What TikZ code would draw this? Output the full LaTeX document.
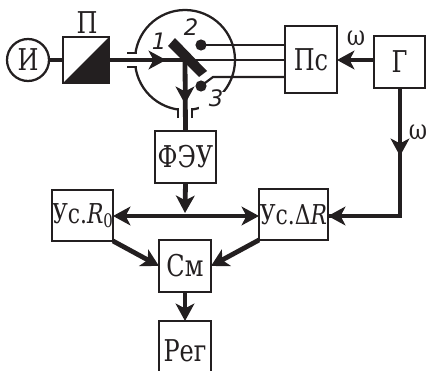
\documentclass[tikz,border=0pt]{standalone}
\usepackage{fontspec}
\setmainfont[FakeStretch=0.8]{DejaVu Serif}
\newfontfamily\numfont{DejaVu Sans}
\usetikzlibrary{arrows.meta,positioning}
\definecolor{ink}{HTML}{231F20}
\tikzset{
  x=0.75pt,y=-0.75pt,
  blockbox/.style={draw=ink,line width=1.9pt,fill=white,inner sep=0pt,outer sep=0pt,anchor=north west,font=\fontsize{22.5pt}{24pt}\selectfont,text=ink},
  thinwire/.style={draw=ink,line width=1.6pt},
  wire/.style={draw=ink,line width=3.6pt},
  arrowwire/.style={wire,-{Stealth[length=13pt,width=14pt,inset=3.5pt]}},
  bothwire/.style={wire,{Stealth[length=13pt,width=14pt,inset=3.5pt]}-{Stealth[length=13pt,width=14pt,inset=3.5pt]}},
  labeltext/.style={inner sep=0pt,text=ink,font=\fontsize{22.5pt}{24pt}\selectfont},
  smalltext/.style={inner sep=0pt,text=ink,font=\fontsize{21pt}{22pt}\selectfont},
  numtext/.style={inner sep=0pt,text=ink,font=\numfont\itshape\fontsize{17pt}{19pt}\selectfont},
  dotmark/.style={circle,fill=ink,inner sep=0pt,minimum size=8.4pt},
}
\newcommand{\blockat}[6]{\node[blockbox,minimum width=#4*0.75pt,minimum height=#5*0.75pt] (#1) at (#2,#3) {#6};}
\begin{document}
\begin{tikzpicture}
\useasboundingbox (0,0) rectangle (426,371);
\clip (0,0) rectangle (426,371);
% housing
\node[draw=ink,line width=1.7pt,circle,inner sep=0pt,minimum size=75pt] (housing) at (185,60) {};
\fill[white] (123,52) rectangle (140,68);
\fill[white] (179,104) rectangle (191,120);
\fill[white] (199,92) rectangle (230,113);
% source and polarizer
\node[draw=ink,line width=1.7pt,circle,inner sep=0pt,outer sep=0pt,minimum size=31.5pt,labeltext] (src) at (28,60) {И};
\blockat{pol}{63}{37}{46}{46}{}
\fill[ink] (pol.south west) -- (pol.north east) -- (pol.south east) -- cycle;
\node[labeltext] (pollabel) at (87,23) {П};
% blocks
\blockat{mod}{285}{26}{52}{67}{Пс}
\blockat{gen}{374}{36}{51}{52}{Г}
\blockat{pmt}{155}{131}{61}{52}{ФЭУ}
\blockat{ampa}{52}{190}{61}{51}{\fontsize{20.5pt}{22pt}\selectfont Ус.\textit{R}\raisebox{-3pt}{\fontsize{14pt}{15pt}\selectfont 0}}
\blockat{ampb}{259}{189}{69}{51}{\fontsize{20.5pt}{22pt}\selectfont Ус.Δ\textit{R}}
\blockat{sum}{159}{240}{52}{52}{См}
\blockat{reg}{159}{321}{52}{60}{Рег}
% named points
\coordinate (mirrorc) at (185,60);
\coordinate (beamtip) at (166,60);
\coordinate (downtip) at (185,104);
\coordinate (dot2) at (201,45);
\coordinate (dot3) at (201,86);
\coordinate (bend3) at (213,77);
\coordinate (gendown) at (400,216);
\coordinate (gentip) at (400,156);
\coordinate (busmid) at (185,213);
\coordinate (busline) at (185,216);
\coordinate (slitla) at (127,53); \coordinate (slitlb) at (137,53);
\coordinate (slitlc) at (127,67); \coordinate (slitld) at (137,67);
\coordinate (slitba) at (178,118); \coordinate (slitbb) at (178,108);
\coordinate (slitbc) at (192,118); \coordinate (slitbd) at (192,108);
% slits
\draw[thinwire] (slitla) -- (slitlb);
\draw[thinwire] (slitlc) -- (slitld);
\draw[thinwire] (slitba) -- (slitbb);
\draw[thinwire] (slitbc) -- (slitbd);
% beams
\draw[wire] (src.east) -- (pol.west);
\draw[wire] (pol.east) -- (mirrorc);
\draw[arrowwire] (pol.east) -- (beamtip);
\draw[wire] (mirrorc) -- (pmt.north);
\draw[arrowwire] (mirrorc) -- (downtip);
% mirror
\fill[ink] (175,38) -- (207,71) -- (199,77) -- (168,46) -- cycle;
% contacts
\node[dotmark] (c2) at (dot2) {};
\node[dotmark] (c3) at (dot3) {};
\draw[thinwire] (c2.center) -- (c2 -| mod.west);
\draw[thinwire] (mirrorc) -- (mirrorc -| mod.west);
\draw[thinwire] (c3.center) -- (bend3) -- (bend3 -| mod.west);
% labels
\node[numtext] (n1) at (159,41) {1};
\node[numtext] (n2) at (191,27) {2};
\node[numtext] (n3) at (216,98) {3};
\node[smalltext] (om1) at (356,38) {ω};
\node[smalltext] (om2) at (418,132) {ω};
% control
\draw[arrowwire] (gen.west |- mirrorc) -- (mod.east |- mirrorc);
\draw[wire] (gen.south -| gendown) -- (gendown) -- (ampb.east |- gendown);
\draw[arrowwire] (gendown) -- (ampb.east |- gendown);
\draw[arrowwire] (gen.south -| gentip) -- (gentip);
\draw[arrowwire] (pmt.south) -- (busmid);
\draw[bothwire] (ampa.east |- busline) -- (ampb.west |- busline);
\draw[arrowwire] (ampa.south east) -- (sum.west);
\draw[arrowwire] (ampb.south west) -- (sum.east);
\draw[arrowwire] (sum.south) -- (reg.north);
\end{tikzpicture}
\end{document}
